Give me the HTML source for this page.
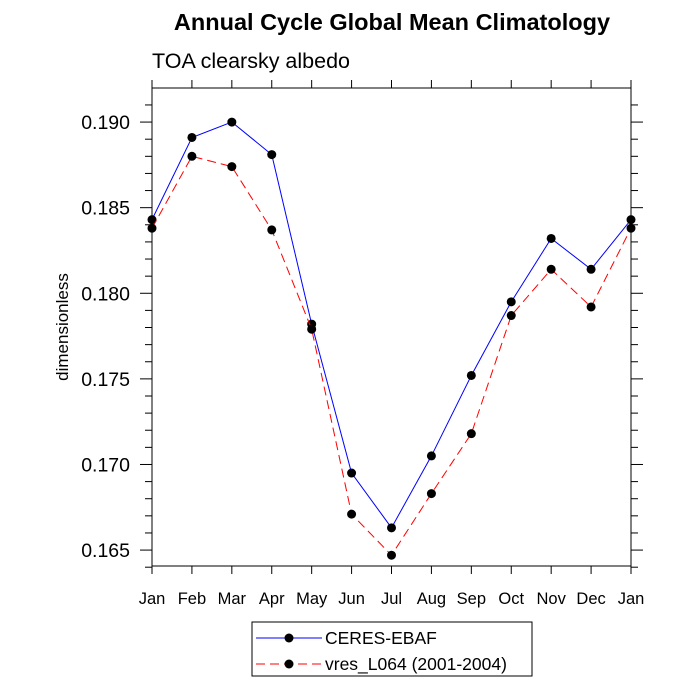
<!DOCTYPE html>
<html><head><style>body{margin:0;background:#fff}svg{display:block}text{font-family:"Liberation Sans",sans-serif}</style></head>
<body>
<svg id="chart" width="700" height="700">
<text x="392" y="30" font-size="23.5" font-weight="bold" text-anchor="middle">Annual Cycle Global Mean Climatology</text>
<text x="152" y="68" font-size="21.5">TOA clearsky albedo</text>
<text transform="translate(68,327) rotate(-90)" font-size="17" text-anchor="middle">dimensionless</text>
<g id="axes"></g><g id="series"></g>
<g>
<rect x="252" y="622" width="280" height="54" fill="#fff" stroke="#000" stroke-width="1"/>
<g>
<line x1="256" y1="638" x2="322" y2="638" stroke="#0000ff" stroke-width="1"/><circle cx="289" cy="638" r="4.5"/>
<text x="325" y="644" font-size="17.5">CERES-EBAF</text></g>
<g>
<line x1="256" y1="664" x2="322" y2="664" stroke="#ff0000" stroke-width="1" stroke-dasharray="9,5"/><circle cx="289" cy="664" r="4.5"/>
<text x="325" y="670" font-size="17.5">vres_L064 (2001-2004)</text></g>
</g>
</svg>
<script>
const months=["Jan","Feb","Mar","Apr","May","Jun","Jul","Aug","Sep","Oct","Nov","Dec","Jan"];
const ceres=[0.1843,0.1891,0.1900,0.1881,0.1782,0.1695,0.1663,0.1705,0.1752,0.1795,0.1832,0.1814,0.1843];
const vres=[0.1838,0.1880,0.1874,0.1837,0.1779,0.1671,0.1647,0.1683,0.1718,0.1787,0.1814,0.1792,0.1838];
const yTicks=[0.165,0.170,0.175,0.180,0.185,0.190];
const yTickLabels=["0.165","0.170","0.175","0.180","0.185","0.190"];
const L=152,R=631,T=88,B=566,ymin=0.16407,ymax=0.19199;
const X=i=>L+(R-L)*i/12;
const Y=v=>B-(B-T)*(v-ymin)/(ymax-ymin);
const NS="http://www.w3.org/2000/svg";
function mk(tag,attrs,parent){const e=document.createElementNS(NS,tag);for(const k in attrs)e.setAttribute(k,attrs[k]);parent.appendChild(e);return e;}
const ax=document.getElementById('axes');
const frame=mk('rect',{x:L,y:T,width:R-L,height:B-T,fill:'none',stroke:'#000','stroke-width':1},ax);


for(let k=0;k<=27;k++){const v=0.165+k*0.001;if(v>ymax)break;const y=Y(v);
 const maj=k%5===0;const len=maj?12:7;
 mk('line',{x1:L-len,y1:y,x2:L,y2:y,stroke:'#000'},ax);
 mk('line',{x1:R,y1:y,x2:R+len,y2:y,stroke:'#000'},ax);}
{const y=Y(0.164);mk('line',{x1:L-7,y1:y,x2:L,y2:y,stroke:'#000'},ax);mk('line',{x1:R,y1:y,x2:R+7,y2:y,stroke:'#000'},ax);}
yTicks.forEach((v,i)=>{const t=mk('text',{x:L-22,y:Y(v)+7,'font-size':19.5,'text-anchor':'end'},ax);t.textContent=yTickLabels[i];
 
 });
months.forEach((m,i)=>{const x=X(i);
 mk('line',{x1:x,y1:B,x2:x,y2:B+8,stroke:'#000'},ax);
 mk('line',{x1:x,y1:T-8,x2:x,y2:T,stroke:'#000'},ax);
 const t=mk('text',{x:x,y:B+38,'font-size':16.5,'text-anchor':'middle'},ax);t.textContent=m;
 
 });
const sg=document.getElementById('series');
function draw(data,color,dash,name){
 const g=mk('g',{},sg);
 
 
 const p=mk('polyline',{points:data.map((v,i)=>X(i)+','+Y(v)).join(' '),fill:'none',stroke:color,'stroke-width':1},g);
 if(dash)p.setAttribute('stroke-dasharray',dash);
 data.forEach((v,i)=>{const c=mk('circle',{cx:X(i),cy:Y(v),r:4.5,fill:'#000'},g);
  
  });
}
draw(ceres,'#0000ff',null,'series-ceres');
draw(vres,'#ff0000','9,5','series-vres');
</script>
</body></html>
